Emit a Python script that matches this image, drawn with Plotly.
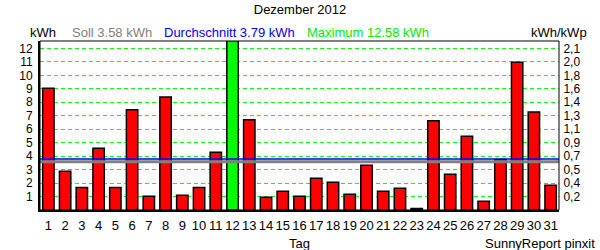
import plotly.graph_objects as go

days = list(range(1, 32))
energy_kwh = [9.04, 2.87, 1.67, 4.58, 1.67, 7.44, 1.02, 8.40, 1.10, 1.67,
              4.28, 12.58, 6.70, 0.95, 1.39, 1.02, 2.36, 2.06, 1.17, 3.32,
              1.39, 1.61, 0.12, 6.62, 2.65, 5.47, 0.65, 3.75, 10.98, 7.27, 1.84]
soll_kwh = 3.58
avg_kwh = 3.79
max_kwh = 12.58
left_ticks = list(range(1, 13))
right_tick_text = ["0,2", "0,4", "0,5", "0,7", "0,9", "1,1", "1,3", "1,4",
                   "1,6", "1,8", "2,0", "2,1"]

FONT = "Liberation Sans, Arial, sans-serif"
colors = ["#00FF00" if v == max(energy_kwh) else "#FF0000" for v in energy_kwh]

fig = go.Figure()
fig.add_trace(go.Bar(x=days, y=energy_kwh, width=0.68,
                     marker=dict(color=colors, line=dict(color="black", width=1.5)),
                     hoverinfo="x+y", showlegend=False))
fig.add_trace(go.Scatter(x=days, y=energy_kwh, yaxis="y2", mode="none",
                         hoverinfo="skip", showlegend=False))

# reference lines
fig.add_shape(type="line", xref="paper", x0=0, x1=1, yref="y", y0=soll_kwh, y1=soll_kwh,
              line=dict(color="#808080", width=3), layer="above")
fig.add_shape(type="line", xref="paper", x0=0, x1=1, yref="y", y0=avg_kwh, y1=avg_kwh,
              line=dict(color="#0000FF", width=1.5), layer="above")
# frame
fig.add_shape(type="rect", xref="paper", yref="paper", x0=0, x1=1, y0=0, y1=1,
              line=dict(color="black", width=1), layer="above")

grid = dict(showgrid=True, gridcolor="#00FF00", griddash="4px,3px", gridwidth=1)

fig.update_layout(
    width=600, height=250,
    margin=dict(l=40, r=41, t=41, b=40),
    paper_bgcolor="white", plot_bgcolor="white",
    font=dict(family=FONT, size=13, color="black"),
    title=dict(text="Dezember 2012", x=0.5, xanchor="center", y=0.962, yanchor="middle",
               font=dict(family=FONT, size=13, color="black")),
    xaxis=dict(range=[0.5, 31.5], tickmode="array", tickvals=days,
               ticktext=[str(d) for d in days], showgrid=False, zeroline=False,
               showline=True, linecolor="black", linewidth=2,
               ticks="outside", ticklen=2, tickcolor="rgba(0,0,0,0)",
               tickfont=dict(size=13)),
    yaxis=dict(range=[0, 12.55], tickmode="array", tickvals=left_ticks,
               ticktext=[str(t) for t in left_ticks], zeroline=False,
               showline=True, linecolor="black", linewidth=2,
               ticks="outside", ticklen=3, tickcolor="rgba(0,0,0,0)",
               tickfont=dict(size=12), **grid),
    yaxis2=dict(range=[0, 12.55], overlaying="y", side="right", tickmode="array",
                tickvals=left_ticks, ticktext=right_tick_text, showgrid=False,
                zeroline=False, showline=False,
                ticks="outside", ticklen=1, tickcolor="rgba(0,0,0,0)",
                tickfont=dict(size=12)),
)

def ann(text, x, y, xanchor="left", color="black"):
    fig.add_annotation(text=text, xref="paper", yref="paper", x=x, y=y,
                       xanchor=xanchor, yanchor="middle", showarrow=False,
                       font=dict(family=FONT, size=13, color=color))

ann("kWh", -0.023, 1.053)
ann(f"Soll {soll_kwh:.2f} kWh", 0.058, 1.053, color="#808080")
ann(f"Durchschnitt {avg_kwh:.2f} kWh", 0.235, 1.053, color="#0000FF")
ann(f"Maximum {max_kwh:.2f} kWh", 0.511, 1.053, color="#00EE00")
ann("kWh/kWp", 1.058, 1.053, xanchor="right")
ann("Tag", 0.5, -0.2, xanchor="center")
ann("SunnyReport pinxit", 1.073, -0.2, xanchor="right", )

fig.write_html("out.html")
